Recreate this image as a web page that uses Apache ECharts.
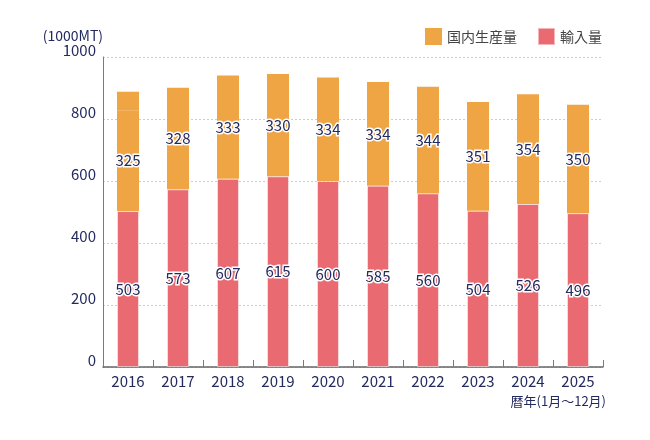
<!DOCTYPE html>
<html>
<head>
<meta charset="utf-8">
<script src="https://cdn.jsdelivr.net/npm/echarts@6/dist/echarts.min.js"></script>
<style>
  html, body { margin: 0; padding: 0; background: #fff; }
  #chart { width: 650px; height: 440px; }
</style>
</head>
<body>
<div id="chart"></div>
<script>
(function() {
  'use strict';

  // ── Data ────────────────────────────────────────────────────────────────
  var years      = ['2016', '2017', '2018', '2019', '2020', '2021', '2022', '2023', '2024', '2025'];
  var imports    = [503, 573, 607, 615, 600, 585, 560, 504, 526, 496];
  var production = [325, 328, 333, 330, 334, 334, 344, 351, 354, 350];
  // 2016 bar is drawn taller than its printed value in the source picture
  var prodExtra  = [60, 0, 0, 0, 0, 0, 0, 0, 0, 0];
  var yTicks     = { min: 0, max: 1000, interval: 200 };

  // ── Palette ─────────────────────────────────────────────────────────────
  var C = {
    orange: '#EFA544',
    red:    '#EA6A72',
    navy:   '#222a5e',
    legend: '#444444',
    axis:   '#7a7a7a',
    grid:   '#cccccc'
  };
  var FONT = "'Noto Sans CJK JP', 'Noto Sans', sans-serif";

  var valueLabel = {
    show: true,
    position: 'inside',
    color: C.navy,
    fontSize: 15,
    fontFamily: FONT,
    textBorderColor: '#fff',
    textBorderWidth: 3
  };

  var chart = echarts.init(document.getElementById('chart'), null, { renderer: 'canvas' });

  chart.setOption({
    animation: false,
    textStyle: { fontFamily: FONT },
    grid: { left: 103, right: 47, top: 57, bottom: 73 },
    legend: {
      data: ['国内生産量', '輸入量'],
      right: 43,
      top: 22,
      itemWidth: 17,
      itemHeight: 17,
      itemGap: 20,
      icon: 'rect',
      textStyle: { color: C.legend, fontSize: 14, fontFamily: FONT }
    },
    xAxis: {
      type: 'category',
      data: years,
      axisLine: { lineStyle: { color: '#666', width: 1.5 } },
      axisTick: { show: true, inside: true, length: 7, lineStyle: { color: C.axis } },
      axisLabel: { color: C.navy, fontSize: 15, margin: 7 }
    },
    yAxis: {
      type: 'value',
      min: yTicks.min,
      max: yTicks.max,
      interval: yTicks.interval,
      name: '(1000MT)',
      nameLocation: 'end',
      nameGap: 20,
      nameTextStyle: { color: C.navy, fontSize: 14, align: 'right', verticalAlign: 'middle' },
      axisLine: { show: true, lineStyle: { color: C.axis } },
      axisTick: { show: false },
      axisLabel: {
        color: C.navy, fontSize: 15, margin: 7, verticalAlign: 'bottom', lineHeight: 14,
        formatter: function(v) { return String(v); }
      },
      splitLine: { lineStyle: { color: C.grid, type: [2, 2] } }
    },
    graphic: [{
      type: 'text',
      right: 44,
      top: 395,
      style: { text: '暦年(1月～12月)', fill: C.navy, font: '13px ' + FONT }
    }],
    series: [{
      name: '輸入量',
      type: 'bar',
      stack: 'total',
      barWidth: 22,
      data: imports,
      itemStyle: { color: C.red, borderColor: 'rgba(255,255,255,0.5)', borderWidth: 1 },
      label: valueLabel
    }, {
      name: '国内生産量',
      type: 'bar',
      stack: 'total',
      barWidth: 22,
      data: production,
      itemStyle: { color: C.orange },
      label: valueLabel
    }, {
      name: 'extra',
      type: 'bar',
      stack: 'total',
      barWidth: 22,
      data: prodExtra,
      itemStyle: { color: C.orange },
      label: { show: false }
    }]
  });
})();
</script>
</body>
</html>
